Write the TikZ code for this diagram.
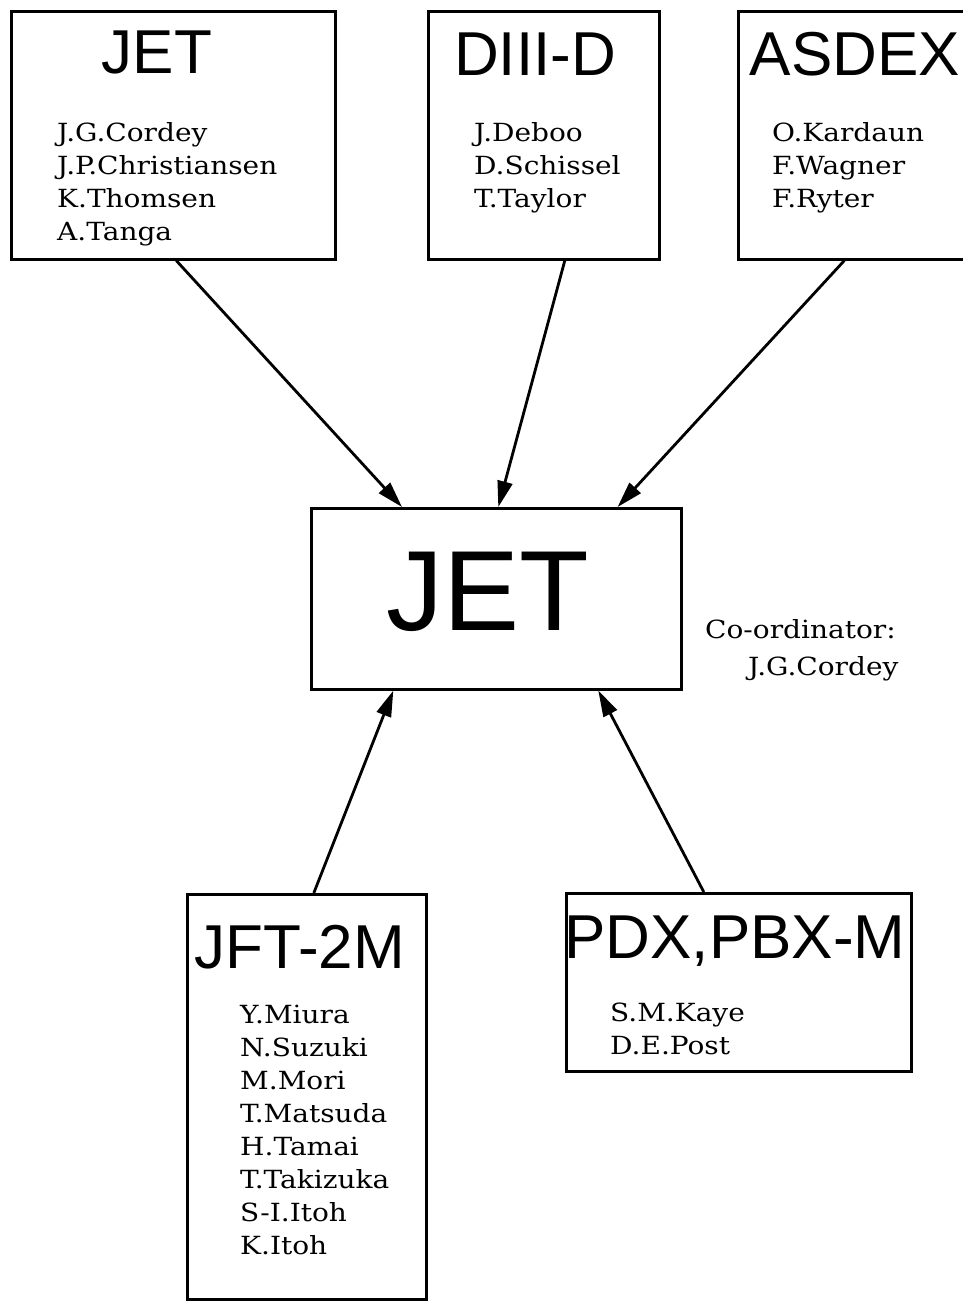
\documentclass[tikz,border=0pt]{standalone}
\usepackage{fontspec}
\setmainfont{DejaVu Serif}[FakeStretch=1.12]
\setsansfont{Liberation Sans}
\usetikzlibrary{positioning,arrows.meta}

\begin{document}
\begin{tikzpicture}[x=1pt, y=-1pt,
    box/.style={draw, line width=2.6pt, anchor=north west, inner sep=0pt},
    ttl/.style={font=\sffamily\fontsize{62}{62}\selectfont, anchor=base, inner sep=0pt},
    who/.style={font=\fontsize{25}{33}\selectfont, align=left, anchor=base west, inner sep=0pt},
    ar/.style={-{Triangle[length=26pt,width=15pt]}, line width=2.8pt}]
  \useasboundingbox (0,0) rectangle (963,1301);
  % machines on top (name lists placed by their last line)
  \node[box, minimum width=324pt, minimum height=248pt] (jet) at (10,10) {};
  \node[ttl] (jett) at (157,73) {JET};
  \node[who] (jetw) at (57,240) {J.G.Cordey\\J.P.Christiansen\\K.Thomsen\\A.Tanga};
  \node[box, minimum width=231pt, minimum height=248pt] (diiid) at (427,10) {};
  \node[ttl] (diiidt) at (535,75) {DIII-D};
  \node[who] (diiidw) at (474,207) {J.Deboo\\D.Schissel\\T.Taylor};
  \node[box, minimum width=232pt, minimum height=248pt] (asdex) at (737,10) {};
  \node[ttl] (asdext) at (855,75) {ASDEX};
  \node[who] (asdexw) at (772,207) {O.Kardaun\\F.Wagner\\F.Ryter};
  % central node
  \node[box, minimum width=370pt, minimum height=181pt] (hub) at (310,507) {};
  \node[ttl, font=\sffamily\fontsize{114}{114}\selectfont] (hubt) at (488,630) {JET};
  \node[who] (coord) at (705,638) {Co-ordinator:};
  \node[who] (coordw) at (748,675) {J.G.Cordey};
  % machines below
  \node[box, minimum width=239pt, minimum height=405pt] (jft) at (186,893) {};
  \node[ttl] (jftt) at (300,968) {JFT-2M};
  \node[who] (jftw) at (240,1254) {Y.Miura\\N.Suzuki\\M.Mori\\T.Matsuda\\H.Tamai\\T.Takizuka\\S-I.Itoh\\K.Itoh};
  \node[box, minimum width=345pt, minimum height=178pt] (pdx) at (565,892) {};
  \node[ttl] (pdxt) at (735,958) {PDX,PBX-M};
  \node[who] (pdxw) at (610,1054) {S.M.Kaye\\D.E.Post};
  % arrows
  \draw[ar] ([xshift=3pt]jet.south) -- ([xshift=92pt]hub.north west);
  \draw[ar] ([xshift=21pt]diiid.south) -- ([xshift=2pt]hub.north);
  \draw[ar] ([xshift=-10pt]asdex.south) -- ([xshift=-65pt]hub.north east);
  \draw[ar] ([xshift=7pt]jft.north) -- ([xshift=-103pt]hub.south);
  \draw[ar] ([xshift=-35pt]pdx.north) -- ([xshift=102pt]hub.south);
\end{tikzpicture}
\end{document}
